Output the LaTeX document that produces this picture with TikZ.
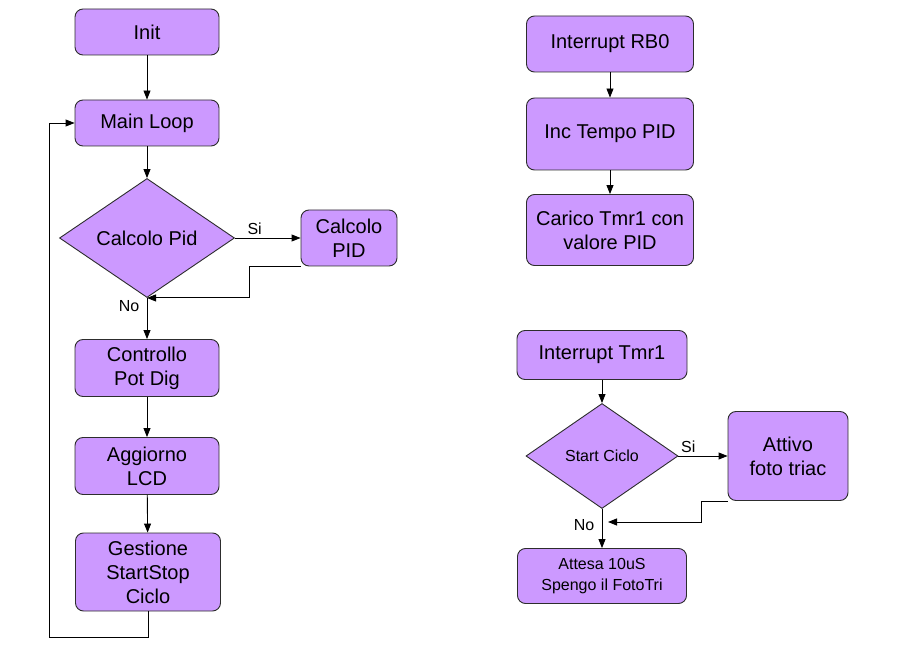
\documentclass[tikz,border=0pt]{standalone}
\usepackage{fontspec}
\setmainfont{Liberation Sans}
\usetikzlibrary{shapes.geometric,arrows.meta}

\definecolor{boxfill}{RGB}{204,153,255}
\definecolor{boxline}{RGB}{45,45,45}

\tikzset{
  box/.style={draw=boxline,fill=boxfill,rounded corners=8pt,line width=0.9pt,
    inner sep=0pt,align=center,font=\fontsize{20}{24}\selectfont},
  smallbox/.style={box,font=\fontsize{16}{21}\selectfont},
  decision/.style={draw=boxline,fill=boxfill,diamond,line width=0.9pt,
    inner sep=0pt,align=center,font=\fontsize{20}{24}\selectfont},
  flow/.style={line width=0.9pt,-{Triangle[length=9pt,width=7pt]}},
  lbl/.style={font=\fontsize{16}{18}\selectfont},
}

\begin{document}
\begin{tikzpicture}[x=1pt,y=-1pt]
    \useasboundingbox (0,0) rectangle (903,652);

    % main program
    \node[box,minimum width=144,minimum height=46] (init) at (147,32) {Init};
    \node[box,minimum width=144,minimum height=46] (main) at (147,123) {Main Loop};
    \node[decision,minimum width=175,minimum height=119] (pidq) at (147,238) {Calcolo Pid};
    \node[box,minimum width=96,minimum height=56] (pidbox) at (349,238) {Calcolo\\PID};
    \node[box,minimum width=144,minimum height=57] (ctrl) at (147,368) {Controllo\\Pot Dig};
    \node[box,minimum width=144,minimum height=57] (lcd) at (147,466) {Aggiorno\\LCD};
    \node[box,minimum width=145,minimum height=78] (gest) at (148,572) {Gestione\\StartStop\\Ciclo};
    \coordinate (loopl) at (49,637);

    \draw[flow] (init) -- (main);
    \draw[flow] (main) -- (pidq);
    \draw[flow] (pidq.east) -- node[lbl,above,pos=0.3] {Si} (pidbox.west);
    \draw[flow] (pidbox.south west) -- ++(-51,0) |- (pidq.south);
    \draw[flow] (pidq.south) -- node[lbl,left,pos=0.2,xshift=-4pt] {No} (ctrl.north);
    \draw[flow] (ctrl) -- (lcd);
    \draw[flow] (lcd) -- (gest);
    \draw[flow] (gest.south) |- (loopl) |- (main.west);

    % interrupt RB0
    \node[box,minimum width=167,minimum height=56] (rb0) at (610,44) {Interrupt RB0};
    \node[box,minimum width=167,minimum height=72] (inc) at (610,134) {Inc Tempo PID};
    \node[box,minimum width=167,minimum height=71] (tmr) at (610,230) {Carico Tmr1 con\\valore PID};

    \draw[flow] (rb0) -- (inc);
    \draw[flow] (inc) -- (tmr);

    % interrupt Tmr1
    \node[smallbox,font=\fontsize{20}{24}\selectfont,minimum width=170,minimum height=49] (tmrint) at (602,355) {Interrupt Tmr1};
    \node[decision,font=\fontsize{16}{20}\selectfont,minimum width=152,minimum height=105] (startq) at (602,456) {Start Ciclo};
    \node[box,minimum width=120,minimum height=89] (triac) at (788,456) {Attivo\\foto triac};
    \node[smallbox,minimum width=169,minimum height=55] (attesa) at (602,576) {Attesa 10uS\\Spengo il FotoTri};
    \coordinate (join) at (608,522);

    \draw[flow] (tmrint) -- (startq);
    \draw[flow] (startq.east) -- node[lbl,above,pos=0.2] {Si} (triac.west);
    \draw[flow] (triac.south west) -- ++(-26,0) |- (join);
    \draw[flow] (startq.south) -- node[lbl,left,pos=0.4,xshift=-4pt] {No} (attesa.north);
\end{tikzpicture}
\end{document}
